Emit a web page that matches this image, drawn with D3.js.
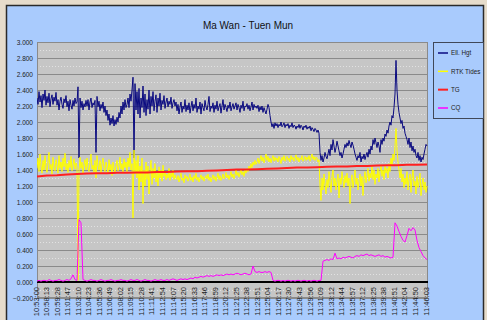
<!DOCTYPE html>
<html><head><meta charset="utf-8">
<script src="https://cdn.jsdelivr.net/npm/d3@7"></script>
<style>html,body{margin:0;padding:0;background:#e6dccb;overflow:hidden}svg{display:block}</style>
</head><body><svg id="c" width="487" height="320"></svg>
<script>
const chartTitle = "Ma Wan - Tuen Mun";
const seriesNames = ["Ell. Hgt", "RTK Tides", "TG", "CQ"];
const timeLabels = ["10:53:00","10:58:13","10:59:28","11:01:47","11:03:10","11:04:23","11:05:36","11:06:49","11:08:02","11:09:15","11:10:28","11:11:41","11:12:54","11:14:07","11:15:20","11:16:33","11:17:46","11:18:59","11:20:12","11:21:25","11:22:38","11:23:51","11:25:04","11:26:17","11:27:30","11:28:43","11:29:56","11:31:09","11:33:12","11:34:44","11:35:57","11:37:12","11:38:25","11:39:38","11:40:51","11:42:04","11:44:50","11:46:03"];
const yTickValues = [-0.2,0,0.2,0.4,0.6,0.8,1.0,1.2,1.4,1.6,1.8,2.0,2.2,2.4,2.6,2.8,3.0];

const ellHgt = [
2.30,2.22,2.38,2.25,2.33,2.18,2.35,2.27,2.40,2.21,
2.32,2.24,2.36,2.19,2.29,2.34,2.22,2.31,2.26,2.37,
2.21,2.28,2.15,2.26,2.31,2.22,2.17,2.29,2.24,2.33,
2.19,2.26,2.14,2.28,2.21,2.16,2.27,2.20,2.30,2.23,
2.25,2.44,1.55,2.30,2.18,2.26,2.15,2.23,2.19,2.27,
2.20,2.28,2.15,2.25,2.30,2.18,2.24,2.21,2.27,1.62,
2.32,2.19,2.26,2.14,2.22,2.17,2.25,2.12,2.20,2.08,
2.15,2.02,2.10,1.96,2.05,1.98,2.08,1.95,2.03,1.97,
2.06,2.00,2.12,2.05,2.20,2.10,2.25,2.15,2.28,2.18,
2.22,2.30,2.18,2.35,2.26,2.40,2.56,1.55,2.48,2.15,
2.38,2.10,2.42,2.05,2.30,2.18,2.45,2.12,2.35,2.08,
2.28,2.16,2.40,2.10,2.32,2.20,2.38,2.14,2.26,2.34,
2.12,2.30,2.20,2.36,2.15,2.27,2.22,2.33,2.17,2.25,
2.30,2.19,2.26,2.22,2.31,2.17,2.24,2.28,2.20,2.25,
2.14,2.22,2.10,2.19,2.25,2.12,2.20,2.16,2.28,2.13,
2.21,2.15,2.24,2.11,2.19,2.26,2.14,2.22,2.17,2.30,
2.12,2.20,2.16,2.25,2.10,2.23,2.18,2.14,2.27,2.19,
2.15,2.22,2.32,2.13,2.20,2.17,2.24,2.12,2.21,2.16,
2.26,2.14,2.19,2.23,2.11,2.20,2.28,2.15,2.22,2.18,
2.13,2.21,2.17,2.25,2.14,2.19,2.23,2.16,2.20,2.24,
2.15,2.22,2.18,2.12,2.21,2.17,2.26,2.14,2.20,2.19,
2.23,2.16,2.21,2.14,2.19,2.25,2.15,2.22,2.18,2.20,
2.17,2.21,2.13,2.19,2.15,2.20,2.12,2.18,2.14,2.10,
2.16,2.22,2.18,2.08,2.00,1.94,1.98,1.92,1.99,1.95,
1.98,1.93,1.97,1.95,2.00,1.94,1.96,1.99,1.93,1.97,
1.95,1.98,1.92,1.96,1.94,1.99,1.93,1.96,1.95,1.91,
1.95,1.93,1.97,1.92,1.96,1.94,1.90,1.95,1.93,1.96,
1.91,1.94,1.92,1.95,1.89,1.93,1.91,1.88,1.92,1.90,
1.87,1.90,1.86,1.62,1.52,1.58,1.50,1.55,1.62,1.57,
1.54,1.60,1.66,1.58,1.72,1.65,1.78,1.70,1.62,1.68,
1.76,1.70,1.64,1.58,1.62,1.55,1.60,1.66,1.72,1.68,
1.74,1.70,1.77,1.72,1.68,1.75,1.71,1.66,1.60,1.56,
1.52,1.58,1.55,1.62,1.50,1.57,1.54,1.60,1.53,1.58,
1.62,1.56,1.66,1.60,1.70,1.65,1.78,1.72,1.80,1.74,
1.68,1.75,1.70,1.62,1.78,1.72,1.80,1.76,1.85,1.82,
1.90,1.86,1.95,2.00,1.96,2.08,2.05,2.18,2.35,2.77,
2.40,2.22,2.12,2.05,1.98,2.02,1.92,1.95,1.86,1.82,
1.78,1.72,1.80,1.68,1.75,1.64,1.70,1.62,1.66,1.58,
1.55,1.62,1.52,1.58,1.50,1.56,1.53,1.60,1.66,1.72,1.70];

const rtkTides = [
1.42,1.55,1.38,1.60,1.45,1.36,1.52,1.40,1.58,1.44,
1.37,1.50,1.62,1.41,1.47,1.35,1.56,1.43,1.39,1.53,
1.46,1.36,1.58,1.42,1.50,1.38,1.55,1.44,1.61,1.40,
1.48,1.37,1.52,1.43,1.57,1.39,1.46,1.54,1.41,1.49,
1.44,0.02,1.38,1.56,1.42,1.50,1.36,1.47,1.53,1.40,
1.55,1.43,1.38,1.50,1.60,1.41,1.46,1.37,1.52,1.30,
1.58,1.45,1.40,1.52,1.36,1.48,1.55,1.42,1.38,1.50,
1.44,1.35,1.53,1.40,1.47,1.33,1.50,1.42,1.37,1.46,
1.52,1.39,1.45,1.56,1.41,1.48,1.36,1.54,1.43,1.50,
1.38,1.55,1.44,1.62,1.40,1.48,0.80,1.65,1.35,1.52,
1.30,1.58,1.15,1.45,1.25,1.55,0.98,1.40,1.20,1.50,
1.28,1.45,1.10,1.38,1.52,1.22,1.42,1.30,1.48,1.25,
1.36,1.20,1.44,1.30,1.40,1.26,1.46,1.32,1.38,1.28,
1.35,1.30,1.42,1.27,1.36,1.31,1.40,1.28,1.34,1.30,
1.28,1.33,1.25,1.31,1.36,1.27,1.30,1.24,1.34,1.29,
1.32,1.26,1.30,1.35,1.27,1.31,1.25,1.33,1.29,1.36,
1.27,1.31,1.25,1.30,1.34,1.28,1.32,1.26,1.30,1.33,
1.29,1.35,1.27,1.31,1.25,1.30,1.34,1.28,1.32,1.26,
1.31,1.36,1.28,1.33,1.27,1.30,1.35,1.29,1.32,1.37,
1.30,1.34,1.28,1.33,1.38,1.31,1.35,1.29,1.34,1.40,
1.33,1.37,1.31,1.36,1.41,1.34,1.38,1.32,1.40,1.36,
1.42,1.38,1.45,1.40,1.48,1.43,1.50,1.46,1.52,1.47,
1.50,1.55,1.48,1.53,1.58,1.51,1.56,1.49,1.54,1.60,
1.52,1.57,1.50,1.55,1.49,1.54,1.58,1.51,1.56,1.52,
1.55,1.50,1.57,1.53,1.48,1.56,1.52,1.58,1.51,1.54,
1.57,1.52,1.55,1.50,1.58,1.53,1.56,1.51,1.55,1.59,
1.52,1.56,1.50,1.55,1.53,1.58,1.51,1.54,1.57,1.52,
1.56,1.53,1.58,1.51,1.55,1.60,1.53,1.57,1.52,1.56,
1.55,1.50,1.53,1.20,1.02,1.30,1.15,1.35,1.22,1.10,
1.28,1.18,1.38,1.25,1.12,1.32,1.40,1.20,1.30,1.15,
1.26,1.35,1.05,1.30,1.22,1.38,1.28,1.18,1.33,1.24,
1.36,1.20,1.30,0.98,1.25,1.34,1.18,1.28,1.40,1.22,
1.30,1.15,1.26,1.35,1.20,1.32,1.08,1.28,1.38,1.24,
1.33,1.42,1.26,1.36,1.30,1.45,1.28,1.40,1.22,1.35,
1.30,1.42,1.25,1.38,1.45,1.32,1.40,1.28,1.46,1.36,
1.42,1.30,1.48,1.38,1.55,1.45,1.60,1.52,1.70,1.92,
1.65,1.50,1.40,1.30,1.42,1.25,1.35,1.18,1.30,1.22,
1.38,1.15,1.28,1.35,1.12,1.30,1.40,1.20,1.26,1.10,
1.32,1.18,1.25,1.36,1.08,1.22,1.30,1.15,1.25,1.12,1.20];

const tg = [1.32,1.33,1.335,1.345,1.35,1.355,1.36,1.36,1.365,1.365,1.37,1.37,1.375,1.375,1.38,1.385,1.385,1.39,1.395,1.40,1.405,1.405,1.41,1.415,1.42,1.425,1.43,1.43,1.435,1.44,1.445,1.445,1.45,1.45,1.455,1.46,1.46,1.465,1.465,1.47];

const cq = [
0.01,0.02,0.01,0.02,0.02,0.01,0.03,0.02,0.01,0.02,0.02,0.03,0.02,0.01,0.02,0.03,0.02,
0.04,0.09,0.03,
0.02,0.78,0.74,0.03,
0.02,0.01,0.02,0.03,0.02,0.02,0.01,0.02,0.03,0.02,0.01,0.02,0.02,0.03,0.02,0.01,0.02,0.02,0.03,0.02,
0.02,0.01,0.02,0.03,0.02,0.02,0.03,0.02,0.01,0.02,0.03,0.02,0.02,0.01,0.02,0.03,0.02,0.02,0.03,0.02,
0.02,0.03,0.02,0.03,0.04,0.03,0.02,0.03,0.04,0.03,0.04,0.03,0.04,
0.05,0.04,0.06,0.05,0.06,0.07,0.06,0.07,0.08,0.07,0.08,0.07,0.08,0.09,0.08,0.09,0.08,0.09,0.10,0.09,
0.10,0.09,0.10,0.11,0.10,0.09,0.10,0.11,0.10,0.09,0.10,
0.20,
0.13,0.12,0.13,0.12,0.12,0.13,0.12,0.13,0.12,
0.02,0.01,0.02,0.02,0.01,0.02,0.01,0.02,0.02,0.01,0.02,0.01,0.02,0.02,0.01,0.02,0.02,0.01,0.02,0.01,
0.02,0.02,0.01,0.02,0.02,
0.26,0.27,0.28,0.27,0.29,0.28,0.36,0.29,0.30,0.29,0.31,0.30,0.31,0.32,0.31,0.30,0.32,0.33,0.32,0.34,
0.33,0.34,0.35,0.33,0.34,0.33,0.32,0.33,0.34,0.32,0.33,0.31,0.32,0.31,0.30,0.31,
0.74,0.70,0.63,0.57,0.52,0.50,0.58,0.67,0.64,0.68,0.65,0.52,0.43,0.38,0.33,0.30,0.28];

const seriesData = [ellHgt, rtkTides, tg, cq];
const seriesColors = ["#0a0a80", "#ffff00", "#ff2020", "#ff00ff"];
const seriesWidths = [1, 1, 2, 1];

const svg = d3.select("#c");
const FONT = "'Liberation Sans', Arial, sans-serif";

// outer panel
svg.append("rect").attr("x", 0).attr("y", 0).attr("width", 487).attr("height", 320).attr("fill", "#e6dccb");
svg.append("rect").attr("x", 6.5).attr("y", 5.5).attr("width", 477).attr("height", 330)
  .attr("fill", "#a9cbfd").attr("stroke", "#2a2a2a").attr("stroke-width", 1.5);

svg.append("text").attr("x", 248).attr("y", 29).attr("text-anchor", "middle")
  .attr("font-family", FONT).attr("font-size", 10).attr("fill", "#111").text(chartTitle);

const plot = {l: 37, r: 428, t: 42, b: 298};
const y = d3.scaleLinear().domain([-0.2, 3.0]).range([plot.b, plot.t]);
const xs = d3.scaleLinear().domain([0, 1]).range([plot.l, plot.r - 1]);
const xp = d3.scalePoint().domain(timeLabels).range([36, 426]);

svg.append("rect").attr("x", plot.l).attr("y", plot.t).attr("width", plot.r - plot.l).attr("height", plot.b - plot.t)
  .attr("fill", "#c6c6c6");

// minor dotted grid
const minor = d3.pairs(yTickValues).map(p => (p[0] + p[1]) / 2);
svg.append("g").selectAll("line").data(minor).join("line")
  .attr("x1", plot.l).attr("x2", plot.r).attr("y1", d => Math.round(y(d)) + 0.5).attr("y2", d => Math.round(y(d)) + 0.5)
  .attr("stroke", "#e2e2e2").attr("stroke-dasharray", "1,2");
// major grid
svg.append("g").selectAll("line").data(yTickValues).join("line")
  .attr("x1", plot.l).attr("x2", plot.r).attr("y1", d => Math.round(y(d)) + 0.5).attr("y2", d => Math.round(y(d)) + 0.5)
  .attr("stroke", "#8a8a8a");

svg.append("rect").attr("x", plot.l + 0.5).attr("y", plot.t + 0.5).attr("width", plot.r - plot.l - 1).attr("height", plot.b - plot.t - 1)
  .attr("fill", "none").attr("stroke", "#8a8a8a");

// zero line (category axis)
svg.append("line").attr("x1", plot.l).attr("x2", plot.r).attr("y1", y(0)).attr("y2", y(0))
  .attr("stroke", "#000").attr("stroke-width", 2);

// y axis
const yAxis = svg.append("g").attr("transform", `translate(${plot.l},0)`)
  .call(d3.axisLeft(y).tickValues(yTickValues).tickFormat(d3.format(".3f")).tickSize(0).tickPadding(4));
yAxis.select(".domain").remove();
yAxis.selectAll("text").attr("font-family", FONT).attr("font-size", 6.5).attr("fill", "#222");

// x labels
svg.append("g").selectAll("text").data(timeLabels).join("text")
  .attr("transform", d => `translate(${xp(d) + 2.5},${y(0) + 5}) rotate(-90)`)
  .attr("text-anchor", "end").attr("font-family", FONT).attr("font-size", 7.5).attr("fill", "#222")
  .text(d => d);

// series
const line = d3.line().x((d, i, arr) => xs(i / (arr.length - 1))).y(d => y(d));
const clip = svg.append("clipPath").attr("id", "pc").append("rect")
  .attr("x", plot.l).attr("y", plot.t).attr("width", plot.r - plot.l).attr("height", plot.b - plot.t);
seriesData.forEach((s, k) => {
  svg.append("path").datum(s).attr("d", line).attr("clip-path", "url(#pc)")
    .attr("fill", "none").attr("stroke", seriesColors[k]).attr("stroke-width", seriesWidths[k])
    .attr("stroke-linejoin", "round");
});

// legend
const lg = svg.append("g");
lg.append("rect").attr("x", 433.5).attr("y", 42.5).attr("width", 50).attr("height", 76)
  .attr("fill", "#a9cbfd").attr("stroke", "#404858");
const ly = d3.scalePoint().domain(seriesNames).range([53, 108]);
seriesNames.forEach((n, k) => {
  lg.append("line").attr("x1", 438).attr("x2", 448).attr("y1", ly(n)).attr("y2", ly(n))
    .attr("stroke", seriesColors[k]).attr("stroke-width", seriesWidths[k] === 2 ? 2 : 1.5);
  lg.append("text").attr("x", 451).attr("y", ly(n) + 2.2).attr("font-family", FONT)
    .attr("font-size", 6.3).attr("fill", "#222").text(n);
});
</script></body></html>
